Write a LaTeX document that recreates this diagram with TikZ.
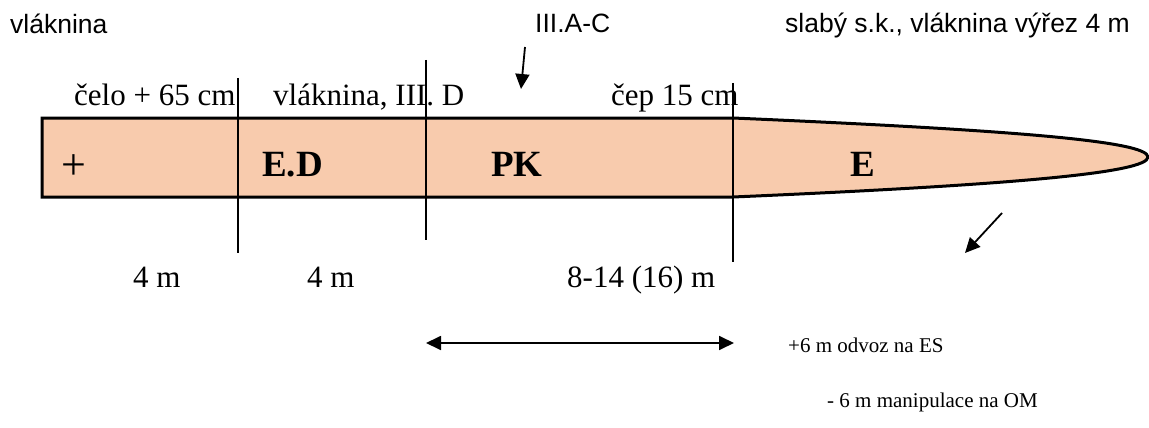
\documentclass[tikz,border=0pt]{standalone}
\usepackage{fontspec}
\setmainfont{Liberation Serif}
\setsansfont{Liberation Sans}
\usetikzlibrary{arrows.meta}
\definecolor{kmen}{HTML}{F8CBAD}

\begin{document}
\begin{tikzpicture}[x=1pt,y=-1pt,
   every node/.style={inner sep=0pt,anchor=base west},
   popis/.style={font=\fontsize{31}{31}\selectfont},
   sekce/.style={font=\fontsize{37}{37}\selectfont\bfseries},
   znamenko/.style={font=\fontsize{44}{44}\selectfont},
   poznamka/.style={font=\fontsize{26.5}{26.5}\sffamily\selectfont},
   drobny/.style={font=\fontsize{21}{21}\selectfont},
   obrys/.style={draw=black,fill=kmen,line width=3pt},
   hranice/.style={line width=1.4pt},
   sipka/.style={line width=1.8pt,-{Triangle[length=15pt,width=14pt]}},
   dvojsipka/.style={line width=1.8pt,{Triangle[length=15pt,width=14pt]}-{Triangle[length=15pt,width=14pt]}}]
\useasboundingbox (0,0) rectangle (1149,428);

% kmen
\draw[obrys] (42,118) -- (733,118)
   .. controls (1010,130) and (1148,141) .. (1148,157)
   .. controls (1148,173) and (1010,185) .. (733,197) -- (42,197) -- cycle;

% hranice sekci
\coordinate (h1a) at (238,78);  \coordinate (h1b) at (238,253);
\coordinate (h2a) at (426,60);  \coordinate (h2b) at (426,240);
\coordinate (h3a) at (733,83);  \coordinate (h3b) at (733,262);
\draw[hranice] (h1a) -- (h1b);
\draw[hranice] (h2a) -- (h2b);
\draw[hranice] (h3a) -- (h3b);

% popisky nahore
\node[poznamka] (vlaknina) at (10,34) {vláknina};
\node[poznamka] (iiiac) at (535,33) {III.A-C};
\node[poznamka] (slaby) at (785,33) {slabý s.k., vláknina výřez 4 m};
\node[popis] (celo) at (74,106) {čelo + 65 cm};
\node[popis] (vlaknd) at (273,106) {vláknina, III. D};
\node[popis] (cep) at (611,106) {čep 15 cm};

% sekce
\node[znamenko] (plus) at (61,179) {+};
\node[sekce] (ed) at (262,176) {E.D};
\node[sekce] (pk) at (491,176) {PK};
\node[sekce] (e) at (850,176) {E};

% delky
\node[popis] (d1) at (133,287) {4 m};
\node[popis] (d2) at (307,287) {4 m};
\node[popis] (d3) at (567,287) {8-14 (16) m};
\node[drobny] (odvoz) at (788,352) {+6 m odvoz na ES};
\node[drobny] (manip) at (827,407) {- 6 m manipulace na OM};

% sipky
\coordinate (s1a) at (525,47);   \coordinate (s1b) at (521,89);
\coordinate (s2a) at (1002,213); \coordinate (s2b) at (965,253);
\coordinate (r1) at (426,343);   \coordinate (r2) at (734,343);
\draw[sipka] (s1a) -- (s1b);
\draw[sipka] (s2a) -- (s2b);
\draw[dvojsipka] (r1) -- (r2);
\end{tikzpicture}
\end{document}
